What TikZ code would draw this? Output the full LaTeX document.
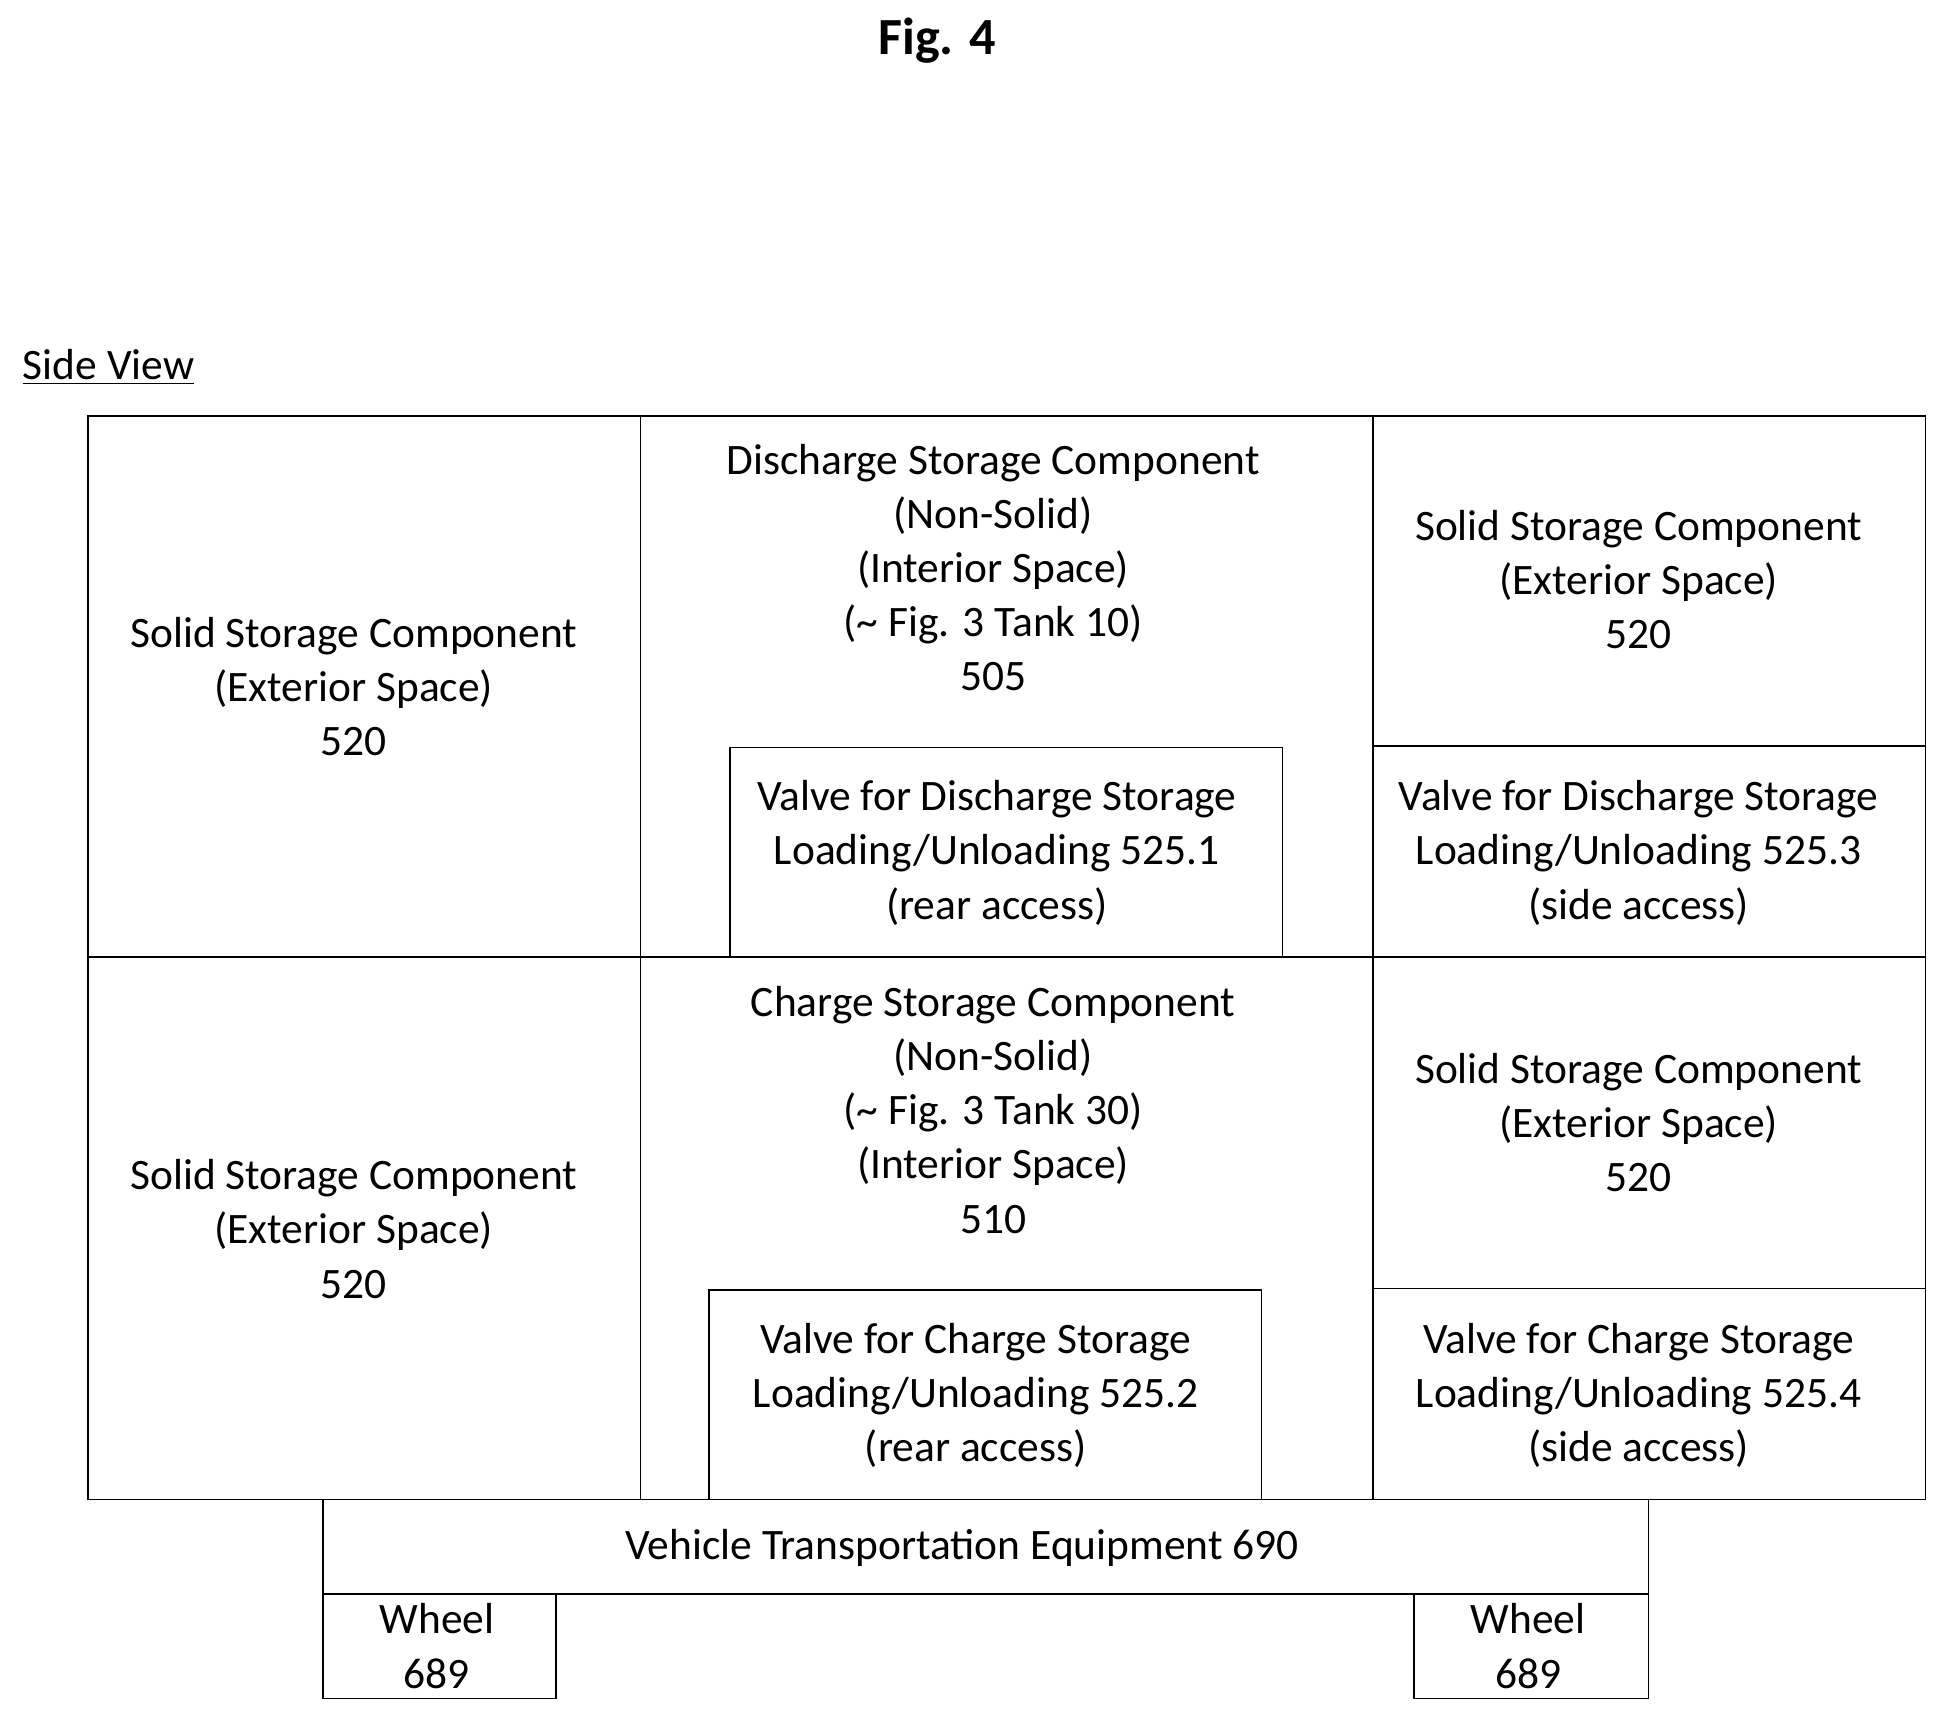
\documentclass[tikz,border=0pt]{standalone}
\usepackage{fontspec}
\setmainfont{Carlito}
\begin{document}
\begin{tikzpicture}[x=0.5pt,y=-0.5pt,
  bx/.style={draw,line width=0.6pt},
  tx/.style={align=center,font=\fontsize{17.5}{21.8}\selectfont,inner sep=0pt}]
\useasboundingbox (0,0) rectangle (1566,1383);
\node[font=\fontsize{21}{24}\selectfont\bfseries] (title) at (755,33) {Fig. 4};
\node[tx,anchor=west] (sv) at (18,296) {\underline{Side View}};
\draw[bx] (71,335) rectangle (516,771);
\draw[bx] (71,771) rectangle (516,1208);
\draw[bx] (516,335) rectangle (1106,771);
\draw[bx] (516,771) rectangle (1106,1208);
\draw[bx] (1106,335) rectangle (1551,601);
\draw[bx] (1106,601) rectangle (1551,771);
\draw[bx] (1106,771) rectangle (1551,1038);
\draw[bx] (1106,1038) rectangle (1551,1208);
\draw[bx] (588,602) rectangle (1033,771);
\draw[bx] (571,1039) rectangle (1016,1208);
\draw[bx] (260,1208) rectangle (1328,1284);
\draw[bx] (260,1284) rectangle (448,1368);
\draw[bx] (1139,1284) rectangle (1328,1368);
\node[tx] (s1) at (285,553) {Solid Storage Component\\(Exterior Space)\\520};
\node[tx] (s2) at (285,990) {Solid Storage Component\\(Exterior Space)\\520};
\node[tx] (d) at (800,457) {Discharge Storage Component\\(Non-Solid)\\(Interior Space)\\(\textasciitilde{} Fig. 3 Tank 10)\\505};
\node[tx] (c) at (800,894) {Charge Storage Component\\(Non-Solid)\\(\textasciitilde{} Fig. 3 Tank 30)\\(Interior Space)\\510};
\node[tx] (s3) at (1320,467) {Solid Storage Component\\(Exterior Space)\\520};
\node[tx] (s4) at (1320,904) {Solid Storage Component\\(Exterior Space)\\520};
\node[tx] (v1) at (803,687) {Valve for Discharge Storage\\Loading/Unloading 525.1\\(rear access)};
\node[tx] (v3) at (1320,687) {Valve for Discharge Storage\\Loading/Unloading 525.3\\(side access)};
\node[tx] (v2) at (786,1124) {Valve for Charge Storage\\Loading/Unloading 525.2\\(rear access)};
\node[tx] (v4) at (1320,1124) {Valve for Charge Storage\\Loading/Unloading 525.4\\(side access)};
\node[tx] (veh) at (775,1247) {Vehicle Transportation Equipment 690};
\node[tx] (w1) at (352,1326) {Wheel\\689};
\node[tx] (w2) at (1231,1326) {Wheel\\689};
\end{tikzpicture}
\end{document}
